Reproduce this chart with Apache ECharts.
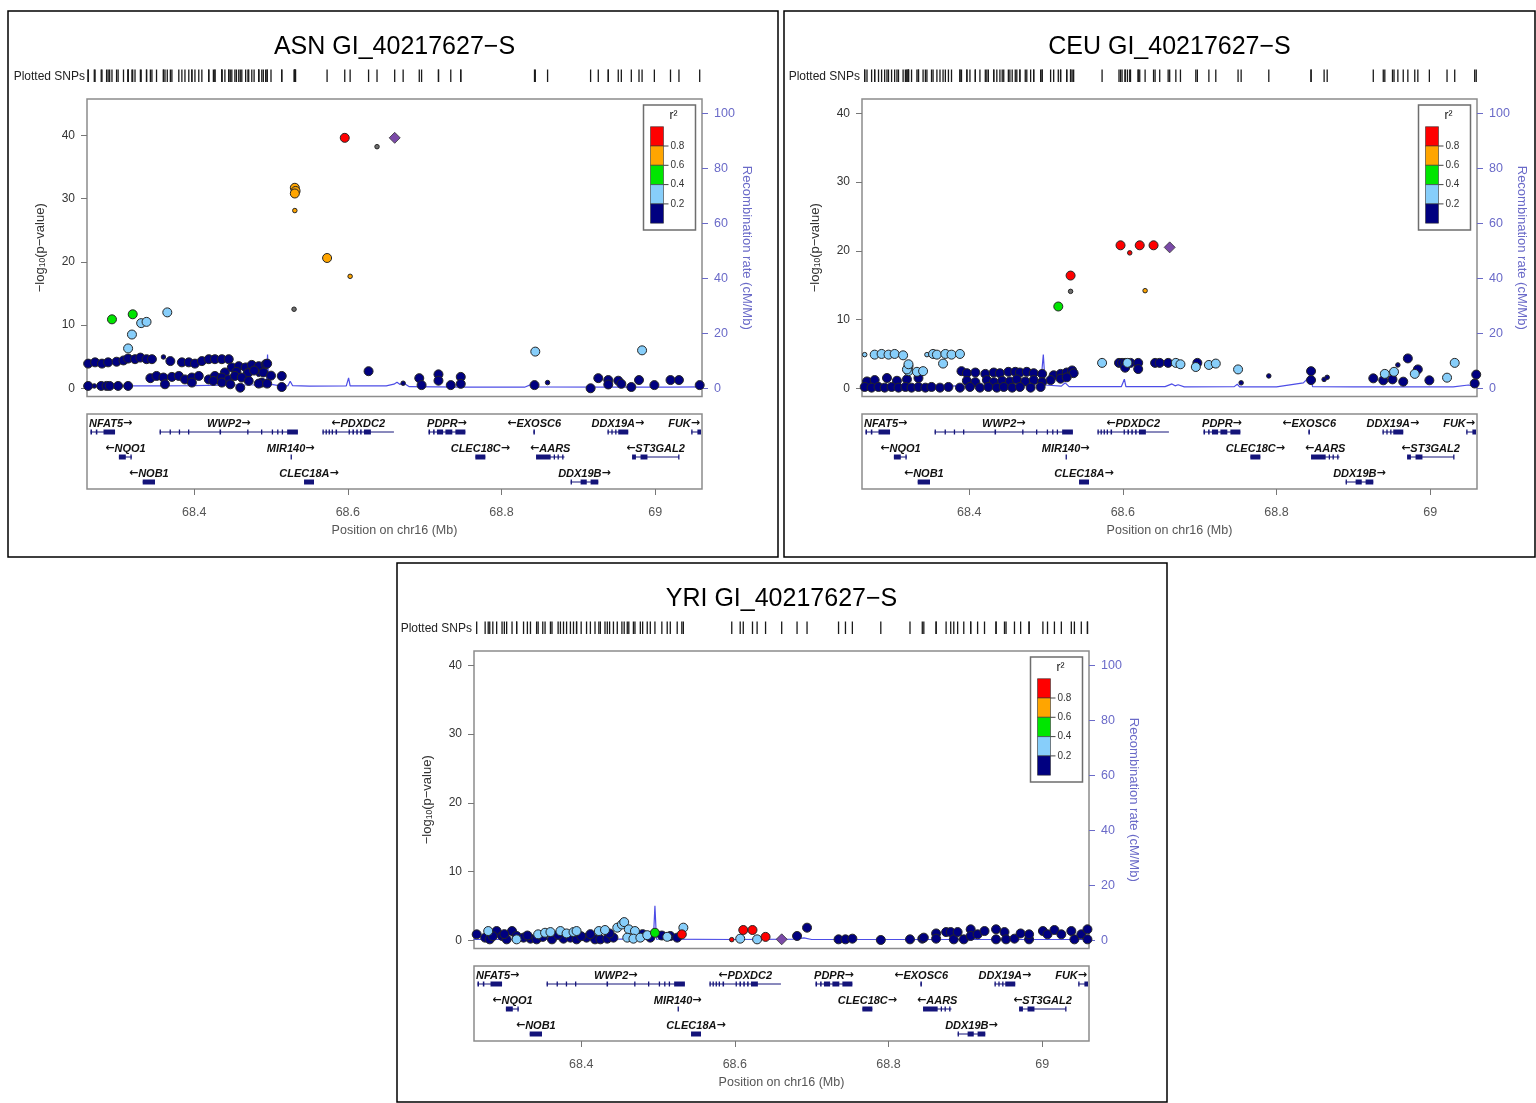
<!DOCTYPE html>
<html><head><meta charset="utf-8">
<script src="https://cdn.jsdelivr.net/npm/echarts@6/dist/echarts.min.js"></script>
<style>html,body{margin:0;padding:0;background:#fff}#c{width:1536px;height:1103px}</style>
</head><body><div id="c"></div>
<script>
// ---------------- DATA ----------------
const TITLE_SUFFIX = 'GI_40217627\u2212S';
const X_TICKS = [68.4, 68.6, 68.8, 69];
const P_TICKS = [0, 10, 20, 30, 40];
const REC_TICKS = [0, 20, 40, 60, 80, 100];
const R2_LEGEND_TICKS = [0.8, 0.6, 0.4, 0.2];
const INDEX_SNP = 'rs6499292';
const INDEX_POS = 68.661;

// ASN
const ASN_pos = [
 68.596,68.638,68.531,68.532,68.531,68.531,68.573,68.603,68.530,
 68.293,68.320,68.331,68.338,68.365,68.319,68.314,68.844,68.983,
 68.627,68.672,68.693,68.696,68.718,68.718,68.734,68.747,68.747,68.843,68.860,
 68.916,68.926,68.939,68.939,68.952,68.956,68.969,68.979,68.999,69.020,69.031,69.058,
 68.262,68.271,68.280,68.288,68.299,68.308,68.314,68.323,68.330,68.338,68.345,68.360,68.369,68.384,68.393,68.401,68.410,68.419,68.427,68.436,68.445,
 68.449,68.458,68.467,68.475,68.484,68.493,68.495,68.484,68.455,68.470,68.478,68.490,68.440,68.500,
 68.343,68.351,68.360,68.371,68.380,68.388,68.397,68.406,68.419,68.427,68.436,68.445,68.453,68.462,68.471,68.488,
 68.262,68.270,68.279,68.286,68.290,68.301,68.314,68.362,68.397,68.425,68.436,68.447,68.460,68.484,68.495,68.514,68.514];
const ASN_logp = [
 39.6,38.2,31.7,31.2,30.8,28.1,20.6,17.7,12.5,
 10.9,11.7,10.3,10.5,12.0,8.5,6.3,5.8,6.0,
 2.7,0.8,1.6,0.5,2.2,1.2,0.5,1.8,0.7,0.5,0.9,
 0.0,1.6,1.3,0.6,1.2,0.7,0.2,1.3,0.5,1.3,1.3,0.5,
 3.9,4.1,3.9,4.1,4.2,4.4,4.7,4.6,4.85,4.6,4.6,4.95,4.3,4.1,4.1,3.9,4.3,4.6,4.6,4.6,4.6,
 3.3,3.5,3.3,3.7,3.5,3.8,3.9,2.2,2.6,2.4,2.8,2.5,2.5,2.0,
 1.6,1.95,1.7,1.8,1.95,1.4,1.7,1.95,1.4,1.95,1.7,1.4,1.95,1.7,1.16,0.9,
 0.37,0.37,0.37,0.37,0.37,0.37,0.37,0.63,0.9,1.16,0.9,0.63,0.1,0.74,0.74,0.2,1.95];
const ASN_r2 = [
 0.92,null,0.72,0.71,0.70,0.68,0.66,0.65,null,
 0.45,0.52,0.31,0.28,0.33,0.26,0.24,0.27,0.25,
 0.08,0.05,0.10,0.12,0.10,0.06,0.10,0.09,0.10,0.04,0.10,
 0.05,0.10,0.12,0.08,0.10,0.06,0.10,0.15,0.10,0.11,0.09,0.05,
 0.12,0.10,0.14,0.11,0.13,0.15,0.12,0.10,0.16,0.12,0.11,0.09,0.13,0.12,0.10,0.11,0.14,0.12,0.13,0.10,0.12,
 0.10,0.12,0.09,0.11,0.10,0.13,0.12,0.08,0.10,0.09,0.11,0.10,0.12,0.09,
 0.08,0.10,0.09,0.11,0.07,0.10,0.12,0.09,0.08,0.10,0.11,0.09,0.10,0.08,0.07,0.06,
 0.05,0.04,0.06,0.05,0.07,0.05,0.06,0.08,0.07,0.09,0.06,0.05,0.03,0.07,0.08,0.04,0.10];
const ASN_genotyped = [
 1,0,1,1,1,0,1,0,0,
 1,1,1,1,1,1,1,1,1,
 1,0,1,1,1,1,1,1,1,1,0,
 1,1,1,1,1,1,1,1,1,1,1,1,
 1,1,1,1,1,1,1,1,1,1,1,0,1,1,1,1,1,1,1,1,1,
 1,1,1,1,1,1,1,0,1,1,1,1,1,1,
 1,1,1,1,1,1,1,1,1,1,1,1,1,1,1,1,
 1,0,1,1,1,1,1,1,1,1,1,1,1,1,1,1,1];
const ASN_index_logp = 39.6;
const ASN_rec_pos = [68.26,68.30,68.35,68.40,68.45,68.490,68.494,68.4955,68.497,68.51,68.522,68.525,68.528,68.55,68.598,68.601,68.603,68.65,68.660,68.664,68.668,68.672,68.68,68.75,68.83,68.842,68.845,68.95,69.02,69.061];
const ASN_rec_rate = [0.6,0.9,0.9,1.0,1.2,1.3,1.6,12.3,1.6,1.0,0.9,2.6,1.0,0.8,0.9,3.8,0.9,0.9,1.5,2.2,1.4,2.0,0.6,0.4,0.4,1.8,0.5,0.4,0.4,0.5];

// CEU
const CEU_pos = [
 68.597,68.609,68.622,68.640,68.532,68.532,68.516,68.629,
 68.264,68.277,68.286,68.295,68.303,68.314,68.345,68.353,68.358,68.369,68.377,68.388,
 68.321,68.321,68.332,68.340,68.366,68.319,68.321,
 68.573,68.606,68.669,68.675,68.695,68.712,68.721,68.750,68.941,68.953,68.980,69.022,69.032,
 68.595,68.599,68.603,68.610,68.620,68.642,68.648,68.659,68.603,68.620,68.697,68.754,68.790,68.845,68.845,68.862,68.866,68.926,68.939,68.951,68.958,68.965,68.971,68.984,68.999,69.058,69.060,
 68.390,68.397,68.408,68.421,68.432,68.440,68.451,68.460,68.466,68.475,68.484,68.495,68.510,68.519,68.527,68.534,68.536,
 68.267,68.277,68.293,68.306,68.319,68.334,68.397,68.408,68.423,68.432,68.443,68.453,68.462,68.473,68.484,68.495,68.506,68.519,68.527,
 68.264,68.273,68.282,68.290,68.299,68.308,68.317,68.325,68.334,68.343,68.351,68.362,68.373,68.388,68.401,68.414,68.425,68.436,68.445,68.456,68.466,68.480,68.493];
const CEU_logp = [
 20.8,19.7,20.8,20.8,16.4,14.1,11.9,14.2,
 4.9,4.9,5.0,4.9,5.0,4.8,4.9,5.0,4.9,5.0,4.9,5.0,
 3.2,2.5,2.4,2.5,3.6,2.75,3.5,
 3.7,3.7,3.7,3.5,3.1,3.4,3.6,2.75,2.1,2.4,2.1,1.55,3.7,
 3.7,3.7,3.7,3.7,3.7,3.7,3.7,3.7,3.0,2.8,3.7,0.8,1.8,2.5,1.2,1.3,1.6,1.45,1.16,1.3,3.4,0.97,4.35,2.75,1.16,0.7,2.0,
 2.5,2.2,2.3,2.1,2.3,2.2,2.4,2.4,2.3,2.4,2.2,2.1,1.9,2.1,2.3,2.6,2.2,
 1.0,1.2,1.5,1.1,1.3,1.5,1.1,0.9,1.2,0.9,1.1,1.0,1.3,1.0,1.2,0.9,1.2,1.4,1.6,
 0.2,0.1,0.2,0.1,0.2,0.1,0.2,0.1,0.2,0.1,0.2,0.1,0.2,0.1,0.2,0.1,0.2,0.1,0.2,0.1,0.2,0.1,0.2];
const CEU_r2 = [
 0.93,0.86,0.91,0.90,0.88,null,0.50,0.70,
 0.32,0.30,0.34,0.31,0.33,0.29,0.28,0.30,0.32,0.31,0.29,0.33,
 0.27,0.25,0.30,0.28,0.31,0.26,0.29,
 0.30,0.28,0.33,0.27,0.29,0.31,0.30,0.26,0.25,0.28,0.27,0.24,0.29,
 0.12,0.10,0.14,0.11,0.13,0.15,0.12,0.10,0.09,0.11,0.13,0.05,0.06,0.10,0.08,0.07,0.06,0.09,0.08,0.10,0.07,0.06,0.15,0.11,0.08,0.05,0.09,
 0.10,0.12,0.11,0.09,0.13,0.10,0.12,0.11,0.10,0.12,0.09,0.11,0.10,0.12,0.13,0.14,0.11,
 0.08,0.09,0.10,0.07,0.09,0.11,0.08,0.07,0.09,0.06,0.08,0.07,0.09,0.08,0.10,0.07,0.08,0.09,0.10,
 0.04,0.05,0.03,0.06,0.05,0.04,0.06,0.05,0.03,0.04,0.06,0.05,0.04,0.03,0.05,0.06,0.04,0.05,0.03,0.04,0.06,0.05,0.04];
const CEU_genotyped = [
 1,0,1,1,1,0,1,0,
 0,1,1,1,1,1,0,1,1,1,1,1,
 1,1,1,1,1,1,1,
 1,1,1,1,1,1,1,1,1,1,1,1,1,
 1,1,1,1,1,1,1,1,1,1,1,0,0,1,1,0,0,1,1,1,0,1,1,1,1,1,1,
 1,1,1,1,1,1,1,1,1,1,1,1,1,1,1,1,1,
 1,1,1,1,1,1,1,1,1,1,1,1,1,1,1,1,1,1,1,
 1,1,1,1,1,1,1,1,1,1,1,1,1,1,1,1,1,1,1,1,1,1,1];
const CEU_index_logp = 20.5;
const CEU_rec_pos = [68.26,68.35,68.45,68.493,68.4965,68.499,68.52,68.525,68.53,68.598,68.602,68.604,68.655,68.664,68.668,68.672,68.68,68.745,68.749,68.752,68.80,68.835,68.844,68.847,68.90,69.03,69.05,69.061];
const CEU_rec_rate = [0.5,0.8,1.0,1.2,12.3,1.2,0.8,2.0,0.6,0.6,3.3,0.6,0.6,1.6,0.9,1.3,0.5,0.6,1.5,0.5,0.5,2.0,4.5,0.6,0.5,0.5,1.2,0.4];

// YRI
const YRI_pos = [
 68.531,68.611,68.623,68.640,68.596,
 68.496,
 68.279,68.316,68.344,68.353,68.360,68.373,68.381,68.390,68.394,68.423,68.431,68.447,68.453,68.456,68.462,68.470,68.460,68.468,68.477,68.486,68.512,68.533,68.607,68.629,
 68.264,68.275,68.281,68.290,68.297,68.303,68.310,68.316,68.325,68.334,68.342,68.362,68.377,68.386,68.394,68.407,68.418,68.425,68.434,68.442,68.490,68.516,68.525,
 68.285,68.300,68.330,68.350,68.370,68.400,68.412,68.437,68.480,68.505,
 68.681,68.694,68.735,68.744,68.753,68.790,68.828,68.844,68.846,68.862,68.862,68.875,68.881,68.885,68.890,68.898,68.907,68.907,68.916,68.925,68.940,68.940,68.951,68.953,68.964,68.972,68.983,68.983,69.001,69.007,69.016,69.025,69.038,69.042,69.051,69.059,69.059];
const YRI_logp = [
 0.87,1.5,1.5,0.5,0.1,
 1.1,
 1.35,0.14,0.87,1.1,1.2,1.35,1.0,1.2,1.35,1.35,1.5,1.84,2.3,2.65,1.6,1.35,0.39,0.24,0.39,0.75,0.51,1.84,0.24,0.14,
 0.87,0.39,0.14,1.35,0.63,0.14,1.35,0.63,0.39,0.24,0.14,0.14,0.24,0.39,0.14,0.39,0.14,0.14,0.24,0.39,0.39,0.63,0.39,
 0.6,0.9,0.7,0.5,0.8,0.6,0.9,1.0,0.9,0.7,
 0.63,1.84,0.14,0.14,0.24,0.05,0.14,0.24,0.39,1.0,0.24,1.2,1.2,0.14,1.2,0.14,1.6,0.63,0.87,1.35,1.6,0.14,1.2,0.14,0.24,1.0,0.14,0.87,1.35,0.87,1.5,0.87,1.35,0.14,0.87,1.6,0.14];
const YRI_r2 = [
 0.90,0.92,0.88,0.85,0.83,
 0.50,
 0.30,0.28,0.32,0.31,0.29,0.33,0.30,0.27,0.31,0.32,0.30,0.34,0.35,0.33,0.31,0.30,0.28,0.27,0.29,0.26,0.25,0.33,0.28,0.24,
 0.10,0.12,0.08,0.11,0.09,0.10,0.13,0.12,0.10,0.09,0.08,0.11,0.10,0.12,0.09,0.13,0.11,0.10,0.12,0.14,0.15,0.11,0.12,
 0.09,0.10,0.11,0.08,0.12,0.10,0.13,0.11,0.14,0.12,
 0.08,0.10,0.06,0.05,0.07,0.04,0.06,0.08,0.07,0.09,0.05,0.10,0.08,0.06,0.09,0.05,0.10,0.07,0.08,0.09,0.11,0.06,0.08,0.05,0.07,0.10,0.06,0.08,0.09,0.07,0.10,0.08,0.09,0.05,0.07,0.10,0.06];
const YRI_genotyped = [
 1,1,1,1,0,
 1,
 1,1,1,1,1,1,1,1,1,1,1,1,1,1,1,1,1,1,1,1,1,1,1,1,
 1,1,1,1,1,1,1,1,1,1,1,1,1,1,1,1,1,1,1,1,1,1,1,
 1,1,1,1,1,1,1,1,1,1,
 1,1,1,1,1,1,1,1,1,1,1,1,1,1,1,1,1,1,1,1,1,1,1,1,1,1,1,1,1,1,1,1,1,1,1,1,1];
const YRI_index_logp = 0.15;
const YRI_rec_pos = [68.26,68.40,68.494,68.496,68.498,68.60,68.68,68.69,68.70,68.85,69.061];
const YRI_rec_rate = [0.3,0.4,0.4,12.6,0.4,0.3,0.4,0.9,0.3,0.3,0.3];

// Genes (shared by all panels)
const GENE_name   = ['NFAT5','WWP2','PDXDC2','PDPR','EXOSC6','DDX19A','FUK','NQO1','MIR140','CLEC18C','AARS','ST3GAL2','NOB1','CLEC18A','DDX19B'];
const GENE_start  = [68.265,68.355,68.567,68.705,68.8415,68.938,69.047,68.302,68.5255,68.766,68.845,68.970,68.333,68.543,68.890];
const GENE_end    = [68.297,68.535,68.660,68.753,68.8435,68.965,69.075,68.319,68.5258,68.779,68.882,69.031,68.349,68.556,68.926];
const GENE_strand = ['+','+','-','+','-','+','+','-','+','+','-','-','-','+','+'];
const GENE_row    = [0,0,0,0,0,0,0,1,1,1,1,1,2,2,2];
const GENE_exons  = [
 [[68.265,68.267],[68.272,68.274],[68.282,68.297]],
 [[68.355,68.356],[68.368,68.369],[68.380,68.381],[68.392,68.393],[68.433,68.435],[68.469,68.470],[68.487,68.488],[68.501,68.502],[68.508,68.509],[68.514,68.515],[68.521,68.535]],
 [[68.567,68.568],[68.571,68.572],[68.575,68.576],[68.579,68.580],[68.584,68.586],[68.601,68.602],[68.606,68.608],[68.611,68.613],[68.616,68.618],[68.621,68.630]],
 [[68.705,68.707],[68.711,68.713],[68.716,68.724],[68.727,68.736],[68.740,68.753]],
 [[68.8415,68.8435]],
 [[68.938,68.939],[68.943,68.944],[68.948,68.949],[68.952,68.965]],
 [[69.047,69.048],[69.055,69.075]],
 [[68.302,68.311],[68.317,68.318]],
 [[68.5255,68.5258]],
 [[68.766,68.779]],
 [[68.845,68.864],[68.868,68.869],[68.873,68.874],[68.879,68.880]],
 [[68.970,68.975],[68.981,68.990],[69.030,69.031]],
 [[68.333,68.349]],
 [[68.543,68.556]],
 [[68.890,68.891],[68.903,68.911],[68.916,68.926]]
];

// ---------------- STYLE / LAYOUT ----------------
const FONT = "'Liberation Sans', Arial, Helvetica, sans-serif";
const ARROW_FONT = "'DejaVu Sans', sans-serif";
const R2_COLORS = ['#000080', '#87CEFA', '#00E600', '#FFA500', '#FF0000'];
const NA_COLOR = '#6e6e6e';
const INDEX_COLOR = '#7B4AA8';
const GENE_COLOR = '#14147a';
const FRAME_COLOR = '#8c8c8c';
const REC_COLOR = '#4d4de6';
const REC_AXIS_COLOR = '#6a6ac8';
const X_MIN = 68.2605, X_MAX = 69.061;
const FRAME_L = 87, FRAME_W = 615, FRAME_T = 99, FRAME_H = 297.5;
const RUG_T = 69.5, RUG_H = 12.5;
const GENE_T = 414, GENE_H = 75;
const REC_MIN = -2.98, REC_MAX = 105.2;

const PANELS = [
 {name:'ASN', dx:0,   dy:0,   border:[8,11,770,546],   yMin:-1.30, yMax:45.74,
  pos:ASN_pos, logp:ASN_logp, r2:ASN_r2, geno:ASN_genotyped, idx:ASN_index_logp, recPos:ASN_rec_pos, recRate:ASN_rec_rate},
 {name:'CEU', dx:775, dy:0,   border:[784,11,751,546], yMin:-1.19, yMax:42.08,
  pos:CEU_pos, logp:CEU_logp, r2:CEU_r2, geno:CEU_genotyped, idx:CEU_index_logp, recPos:CEU_rec_pos, recRate:CEU_rec_rate},
 {name:'YRI', dx:387, dy:552, border:[397,563,770,539],yMin:-1.19, yMax:42.08,
  pos:YRI_pos, logp:YRI_logp, r2:YRI_r2, geno:YRI_genotyped, idx:YRI_index_logp, recPos:YRI_rec_pos, recRate:YRI_rec_rate}
];

const measureCtx = document.createElement('canvas').getContext('2d');
const GENE_FONT_SIZE = 11;
function textW(t, font){ measureCtx.font = font; return measureCtx.measureText(t).width; }

function r2bin(r){ if (r === null || r === undefined) return -1; return Math.min(4, Math.floor(r / 0.2)); }

function geneRenderItem(params, api){
  const i = params.dataIndex;
  const cs = params.coordSys;
  const x0 = cs.x, x1 = cs.x + cs.width;
  const yLine = api.coord([GENE_start[i], GENE_row[i] + 0.72])[1];
  let sx = api.coord([GENE_start[i], 0])[0];
  let ex = api.coord([GENE_end[i], 0])[0];
  sx = Math.max(sx, x0 + 1); ex = Math.min(ex, x1 - 1);
  const children = [];
  if (ex - sx > 1) children.push({type:'line', shape:{x1:sx, y1:yLine, x2:ex, y2:yLine}, style:{stroke:GENE_COLOR, lineWidth:1}});
  GENE_exons[i].forEach(function(e){
    let a = Math.max(api.coord([e[0],0])[0], x0 + 1);
    let b = Math.min(api.coord([e[1],0])[0], x1 - 1);
    const w = Math.max(b - a, 1.3);
    children.push({type:'rect', shape:{x:a, y:yLine - 2.5, width:w, height:5}, style:{fill:GENE_COLOR}});
  });
  const plus = GENE_strand[i] === '+';
  const arrow = plus ? '\u2192' : '\u2190';
  const text = plus ? '{n|' + GENE_name[i] + '}{a|' + arrow + '}' : '{a|' + arrow + '}{n|' + GENE_name[i] + '}';
  const w = textW(GENE_name[i], 'italic bold ' + GENE_FONT_SIZE + 'px ' + FONT) + textW(arrow, 'bold ' + GENE_FONT_SIZE + 'px ' + ARROW_FONT);
  let cx = (api.coord([GENE_start[i],0])[0] + api.coord([GENE_end[i],0])[0]) / 2;
  cx = Math.min(Math.max(cx, x0 + 2 + w/2), x1 - 2 - w/2);
  children.push({type:'text', style:{text:text, x:cx, y:yLine - 3, align:'center', verticalAlign:'bottom',
     fontSize:GENE_FONT_SIZE, fontFamily:FONT, fill:'#111',
     rich:{
       n:{fontSize:GENE_FONT_SIZE, fontStyle:'italic', fontWeight:'bold', fontFamily:FONT, fill:'#111'},
       a:{fontSize:GENE_FONT_SIZE, fontWeight:'bold', fontFamily:ARROW_FONT, fill:'#111'}
     }}});
  return {type:'group', children:children};
}

const grids = [], xAxes = [], yAxes = [], series = [], graphics = [];

PANELS.forEach(function(P, p){
  const L = FRAME_L + P.dx;
  grids.push({left:L, top:RUG_T + P.dy, width:FRAME_W, height:RUG_H, show:false, outerBoundsMode:'none'});
  grids.push({left:L, top:FRAME_T + P.dy, width:FRAME_W, height:FRAME_H, show:true, borderColor:FRAME_COLOR, borderWidth:1.5, outerBoundsMode:'none'});
  grids.push({left:L, top:GENE_T + P.dy, width:FRAME_W, height:GENE_H, show:true, borderColor:FRAME_COLOR, borderWidth:1.5, outerBoundsMode:'none'});
  const gi = 3*p;
  xAxes.push({gridIndex:gi, type:'value', min:X_MIN, max:X_MAX, show:false});
  xAxes.push({gridIndex:gi+1, type:'value', min:X_MIN, max:X_MAX, show:false});
  xAxes.push({gridIndex:gi+2, type:'value', min:X_MIN, max:X_MAX, position:'bottom',
    axisLine:{show:false, onZero:false}, splitLine:{show:false},
    axisTick:{show:true, customValues:X_TICKS, length:6, lineStyle:{color:'#777'}},
    axisLabel:{customValues:X_TICKS, fontSize:12.5, color:'#555', margin:17, fontFamily:FONT},
    name:'Position on chr16 (Mb)', nameLocation:'middle', nameGap:35,
    nameTextStyle:{fontSize:12.5, color:'#555', fontFamily:FONT}});
  yAxes.push({gridIndex:gi, type:'value', min:0, max:1, show:false});
  yAxes.push({gridIndex:gi+1, type:'value', min:P.yMin, max:P.yMax, position:'left',
    axisLine:{show:false, onZero:false}, splitLine:{show:false},
    axisTick:{show:true, customValues:P_TICKS, length:6, lineStyle:{color:'#777'}},
    axisLabel:{customValues:P_TICKS, fontSize:12, color:'#333', margin:12, fontFamily:FONT},
    name:'\u2212log{s|10}(p\u2212value)', nameLocation:'middle', nameGap:40,
    nameTextStyle:{fontSize:13, color:'#333', fontFamily:FONT, rich:{s:{fontSize:8.5, verticalAlign:'bottom', fontFamily:FONT, color:'#333'}}}});
  yAxes.push({gridIndex:gi+1, type:'value', min:REC_MIN, max:REC_MAX, position:'right',
    axisLine:{show:false, onZero:false}, splitLine:{show:false},
    axisTick:{show:true, customValues:REC_TICKS, length:6, lineStyle:{color:REC_AXIS_COLOR}},
    axisLabel:{customValues:REC_TICKS, fontSize:12.5, color:REC_AXIS_COLOR, margin:12, fontFamily:FONT},
    name:'Recombination rate (cM/Mb)', nameLocation:'middle', nameGap:38, nameRotate:-90,
    nameTextStyle:{fontSize:13, color:REC_AXIS_COLOR, fontFamily:FONT}});
  yAxes.push({gridIndex:gi+2, type:'value', min:0, max:3, inverse:true, show:false});
  const xi = 3*p, yi = 4*p;

  // rug of plotted SNPs
  const rug = P.pos.map(function(x){ return [x, 0.5]; });
  rug.push([INDEX_POS, 0.5]);
  series.push({type:'scatter', xAxisIndex:xi, yAxisIndex:yi, data:rug, symbol:'rect', symbolSize:[1.3, 12.5],
    itemStyle:{color:'#1a1a1a', opacity:1}, silent:true, z:2});

  // recombination rate
  series.push({type:'line', xAxisIndex:xi+1, yAxisIndex:yi+2,
    data:P.recPos.map(function(x,k){ return [x, P.recRate[k]]; }),
    showSymbol:false, symbol:'none', lineStyle:{color:REC_COLOR, width:1.2}, z:2, silent:true});

  // SNP points, by r2 bin
  [-1,0,1,2,3,4].forEach(function(b){
    const d = [];
    P.pos.forEach(function(x,k){ if (r2bin(P.r2[k]) === b) d.push([x, P.logp[k], P.geno[k]]); });
    series.push({type:'scatter', xAxisIndex:xi+1, yAxisIndex:yi+1, data:d, symbol:'circle',
      symbolSize:function(v){ return v[2] ? 9 : 4.5; },
      itemStyle:{color: b < 0 ? NA_COLOR : R2_COLORS[b], borderColor:'#262626', borderWidth:1, opacity:1},
      z:4 + b, silent:true});
  });
  // index SNP
  series.push({type:'scatter', xAxisIndex:xi+1, yAxisIndex:yi+1, data:[[INDEX_POS, P.idx]], symbol:'diamond',
    symbolSize:11, itemStyle:{color:INDEX_COLOR, borderColor:'#333', borderWidth:0.8, opacity:1}, z:12, silent:true});
  // index SNP label
  const labelY = P.yMax - 21 * (P.yMax - P.yMin) / FRAME_H;
  series.push({type:'scatter', xAxisIndex:xi+1, yAxisIndex:yi+1, data:[[INDEX_POS, labelY]], symbolSize:1,
    itemStyle:{opacity:0}, silent:true, z:13,
    label:{show:true, position:'inside', formatter:INDEX_SNP, fontSize:11, fontWeight:'bold', color:'#111', fontFamily:FONT}});
  // genes
  series.push({type:'custom', xAxisIndex:xi+2, yAxisIndex:yi+3, renderItem:geneRenderItem,
    data:GENE_name.map(function(n,k){ return [GENE_start[k], GENE_end[k], GENE_row[k]]; }),
    clip:false, silent:true, z:5});

  // panel border
  graphics.push({type:'rect', shape:{x:P.border[0], y:P.border[1], width:P.border[2], height:P.border[3]},
    style:{fill:null, stroke:'#000', lineWidth:1.5}, silent:true});
  // title
  graphics.push({type:'text', x:L + FRAME_W/2, y:47.5 + P.dy, silent:true,
    style:{text:P.name + ' ' + TITLE_SUFFIX, align:'center', verticalAlign:'middle', fontSize:25, fontFamily:FONT, fill:'#000'}});
  // Plotted SNPs label
  graphics.push({type:'text', x:L - 2, y:RUG_T + RUG_H/2 + 0.5 + P.dy, silent:true,
    style:{text:'Plotted SNPs', align:'right', verticalAlign:'middle', fontSize:12, fontFamily:FONT, fill:'#222'}});
  // r2 legend
  const lx = L + FRAME_W - 58.5, ly = FRAME_T + 6 + P.dy;
  const ch = [];
  ch.push({type:'rect', shape:{x:0, y:0, width:52, height:125}, style:{fill:'#fff', stroke:'#6e6e6e', lineWidth:1.5}});
  ch.push({type:'text', x:30, y:11, style:{text:'r\u00B2', align:'center', verticalAlign:'middle', fontSize:12, fontFamily:FONT, fill:'#111'}});
  for (let k = 0; k < 5; k++) {
    ch.push({type:'rect', shape:{x:7, y:21.7 + 19.3*k, width:13, height:19.3},
      style:{fill:R2_COLORS[4-k], stroke:'#333', lineWidth:0.6}});
  }
  R2_LEGEND_TICKS.forEach(function(t, j){
    const yy = 21.7 + 19.3*(j+1);
    ch.push({type:'line', shape:{x1:20, y1:yy, x2:25, y2:yy}, style:{stroke:'#444', lineWidth:1}});
    ch.push({type:'text', x:27, y:yy, style:{text:t.toFixed(1), align:'left', verticalAlign:'middle', fontSize:10, fontFamily:FONT, fill:'#333'}});
  });
  graphics.push({type:'group', x:lx, y:ly, children:ch, silent:true, z:50});
});

const chart = echarts.init(document.getElementById('c'), null, {renderer:'canvas'});
chart.setOption({
  animation:false,
  backgroundColor:'#fff',
  grid:grids, xAxis:xAxes, yAxis:yAxes, series:series,
  graphic:{elements:graphics}
});
</script>
</body></html>
